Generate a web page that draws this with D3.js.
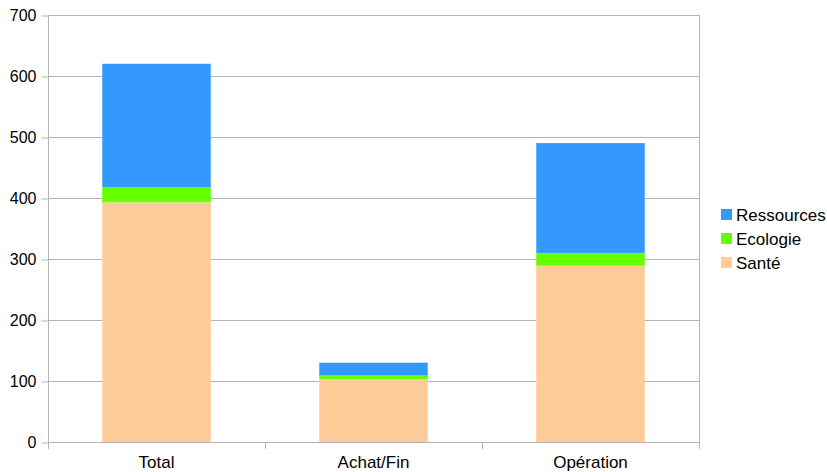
<!DOCTYPE html>
<html><head><meta charset="utf-8">
<script src="https://cdn.jsdelivr.net/npm/d3@7"></script>
<style>body{margin:0;background:#fff}svg{display:block}text{font-family:"Liberation Sans",Arial,sans-serif}</style>
</head><body>
<svg id="c" width="827" height="472"></svg>
<script>
const categories = ["Total", "Achat/Fin", "Opération"];
const sante = [393, 103, 289];
const ecologie = [25, 6, 21];
const ressources = [202, 21, 180];
const seriesNames = ["Santé", "Ecologie", "Ressources"];
const seriesColors = ["#ffcc99", "#66ff00", "#3399ff"];
const yTicks = [0, 100, 200, 300, 400, 500, 600, 700];

const svg = d3.select("#c");
const L = 48, R = 699, T = 15, B = 442;
const x = d3.scaleBand().domain(categories).range([L, R]).paddingInner(0.5).paddingOuter(0.25);
const y = d3.scaleLinear().domain([0, 700]).range([B, T]);
const grid = "#b3b3b3";

// gridlines
svg.append("g").selectAll("line").data(yTicks).join("line")
  .attr("x1", L).attr("x2", R).attr("y1", d => y(d) + 0.5).attr("y2", d => y(d) + 0.5)
  .attr("stroke", grid).attr("stroke-width", 1);
// right border
svg.append("line").attr("x1", R + 0.5).attr("x2", R + 0.5).attr("y1", T).attr("y2", B + 7)
  .attr("stroke", grid);

const data = categories.map((c, i) => ({cat: c, "Santé": sante[i], "Ecologie": ecologie[i], "Ressources": ressources[i]}));
const stack = d3.stack().keys(seriesNames)(data);
svg.append("g").selectAll("g").data(stack).join("g")
  .attr("fill", (d, i) => seriesColors[i])
  .selectAll("rect").data(d => d).join("rect")
  .attr("x", d => x(d.data.cat)).attr("width", x.bandwidth())
  .attr("y", d => y(d[1])).attr("height", d => y(d[0]) - y(d[1]));

// y axis
const ya = svg.append("g").attr("transform", `translate(${L + 0.5},0.5)`)
  .call(d3.axisLeft(y).tickValues(yTicks).tickSize(7).tickPadding(5));
ya.select(".domain").attr("stroke", grid).attr("d", `M0,${T}V${B}`);
ya.selectAll(".tick line").attr("stroke", grid);
ya.selectAll(".tick text").attr("font-size", 16).attr("fill", "#000").attr("font-family", "Liberation Sans, Arial, sans-serif");

// x axis
const xa = svg.append("g").attr("transform", `translate(0,${B + 0.5})`)
  .call(d3.axisBottom(x).tickSize(0).tickPadding(13));
xa.select(".domain").attr("stroke", grid).attr("d", `M${L},0H${R}`);
xa.selectAll(".tick text").attr("font-size", 17).attr("fill", "#000").attr("font-family", "Liberation Sans, Arial, sans-serif");
const step = (R - L) / categories.length;
svg.append("g").selectAll("line").data(d3.range(categories.length + 1)).join("line")
  .attr("x1", i => Math.round(L + i * step) + 0.5).attr("x2", i => Math.round(L + i * step) + 0.5)
  .attr("y1", B).attr("y2", B + 7).attr("stroke", grid);

// legend
const leg = svg.append("g").attr("transform", "translate(721,209)");
const legOrder = [2, 1, 0];
legOrder.forEach((si, k) => {
  const g = leg.append("g").attr("transform", `translate(0,${k * 24})`);
  g.append("rect").attr("width", 11).attr("height", 11).attr("fill", seriesColors[si]);
  g.append("text").attr("x", 15).attr("y", 12).attr("font-size", 17).attr("fill", "#000").text(seriesNames[si]);
});
</script>
</body></html>
